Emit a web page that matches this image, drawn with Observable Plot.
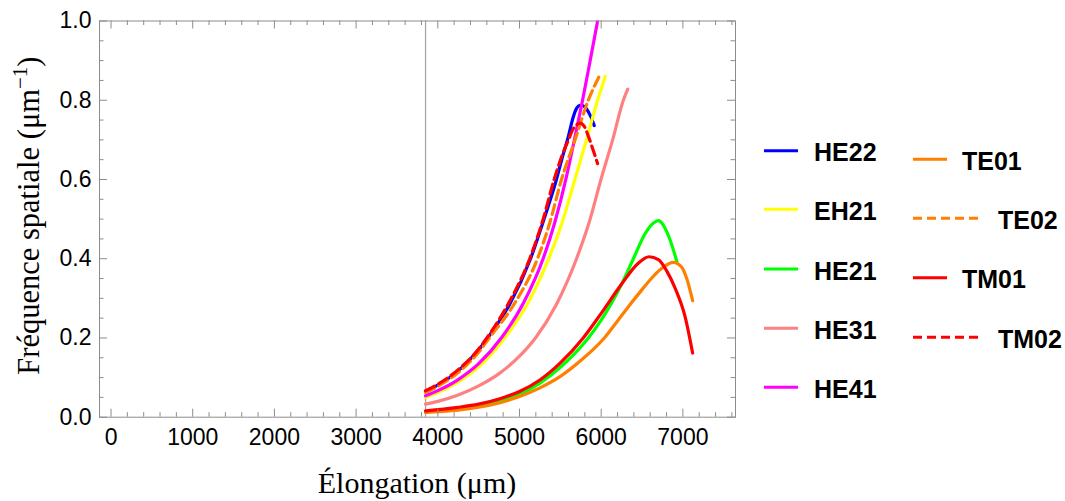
<!DOCTYPE html>
<html><head><meta charset="utf-8">
<script src="https://cdn.jsdelivr.net/npm/d3@7"></script>
<script src="https://cdn.jsdelivr.net/npm/@observablehq/plot@0.6"></script>
<style>body{margin:0;background:#fff}</style>
</head><body><div id="chart"></div>
<script>
// ---- data ----
const seriesNames  = ["HE22","EH21","HE21","HE31","HE41","TE01","TE02","TM01","TM02"];
const seriesColors = ["#0000ff","#ffff00","#00ff00","#ff8080","#ff00ff","#ff8000","#ff8000","#ff0000","#ff0000"];
const seriesDashed = [false,false,false,false,false,false,true,false,true];

const he22X = [3850,4000,4250,4500,4610,4880,5135,5300,5452,5514,5600,5657,5700,5739,5780,5821,5870,5915];
const he22Y = [0.065,0.081,0.117,0.170,0.200,0.285,0.400,0.500,0.600,0.648,0.710,0.757,0.780,0.787,0.786,0.778,0.760,0.736];

const eh21X = [3850,4000,4250,4500,4818,5090,5358,5520,5678,5820,5956,6050];
const eh21Y = [0.050,0.062,0.089,0.127,0.200,0.283,0.400,0.490,0.600,0.700,0.800,0.860];

const he21X = [3850,4000,4250,4500,4750,5000,5250,5500,5842,6000,6250,6394,6537,6640,6701,6760,6824,6926];
const he21Y = [0.013,0.016,0.021,0.029,0.041,0.058,0.086,0.126,0.200,0.245,0.336,0.400,0.463,0.490,0.496,0.485,0.458,0.393];

const he31X = [3850,4000,4250,4500,4750,5000,5195,5450,5698,5850,5997,6140,6271,6325];
const he31Y = [0.033,0.040,0.056,0.079,0.110,0.154,0.200,0.284,0.400,0.490,0.600,0.700,0.800,0.828];

const he41X = [3850,4000,4250,4500,4777,5050,5289,5430,5567,5672,5772,5865,5956];
const he41Y = [0.054,0.067,0.095,0.135,0.200,0.289,0.400,0.490,0.600,0.700,0.800,0.900,1.000];

const te01X = [3850,4000,4250,4500,4750,5000,5250,5500,5750,6038,6200,6333,6500,6600,6742,6885,6988,7050,7119];
const te01Y = [0.012,0.014,0.018,0.025,0.036,0.052,0.074,0.103,0.143,0.200,0.243,0.279,0.322,0.347,0.376,0.391,0.378,0.348,0.294];

const te02X = [3850,4000,4250,4500,4630,4930,5220,5370,5514,5680,5842,5975];
const te02Y = [0.062,0.078,0.113,0.164,0.200,0.284,0.400,0.490,0.600,0.700,0.800,0.860];

const tm01X = [3850,4000,4250,4500,4750,5000,5250,5500,5780,6000,6250,6450,6586,6700,6800,6906,7029,7119];
const tm01Y = [0.016,0.019,0.025,0.033,0.046,0.065,0.094,0.137,0.200,0.262,0.336,0.388,0.405,0.398,0.370,0.325,0.252,0.162];

const tm02X = [3850,4000,4250,4500,4600,4860,5125,5290,5424,5520,5600,5657,5700,5739,5790,5850,5900,5956];
const tm02Y = [0.067,0.083,0.120,0.172,0.200,0.285,0.400,0.500,0.600,0.660,0.700,0.728,0.738,0.742,0.735,0.705,0.675,0.640];

const cutoffX = [3850];
const xTicks = [0,1000,2000,3000,4000,5000,6000,7000];
const yTicks = [0,0.2,0.4,0.6,0.8,1.0];
const xLabel = "Élongation (μm)";
const yLabel = "Fréquence spatiale (μm";

// ---- build ----
const seriesX = [he22X,eh21X,he21X,he31X,he41X,te01X,te02X,tm01X,tm02X];
const seriesY = [he22Y,eh21Y,he21Y,he31Y,he41Y,te01Y,te02Y,tm01Y,tm02Y];
const tables = seriesNames.map((n,i) => seriesX[i].map((x,j) => ({series:n, x, y: seriesY[i][j]})));

const W = 1065, H = 501;
const mL = 99, mR = 330, mT = 20.5, mB = 84.3;
const pw = W - mL - mR, ph = H - mT - mB;
const xDomain = [-141, 7644];

const minorX = d3.range(200, 7644, 200).filter(v => v % 1000 !== 0);
const minorY = d3.range(0.05, 1, 0.05).filter(v => Math.abs(v*5 - Math.round(v*5)) > 1e-6);
const frameCol = "#8c8c8c";
const MAJ = 8, MIN = 4.5;

const tickMarks = (vals, len) => [
  Plot.tickX(vals, {x: d => d, insetTop: ph - len, stroke: frameCol}),
  Plot.tickX(vals, {x: d => d, insetBottom: ph - len, stroke: frameCol}),
];
const tickMarksY = (vals, len) => [
  Plot.tickY(vals, {y: d => d, insetRight: pw - len, stroke: frameCol}),
  Plot.tickY(vals, {y: d => d, insetLeft: pw - len, stroke: frameCol}),
];

const lineMarks = tables.map((t,i) => Plot.line(t, {
  x: "x", y: "y", stroke: seriesColors[i], strokeWidth: 3.2,
  strokeDasharray: seriesDashed[i] ? "10,5" : null,
  curve: "monotone-x", clip: true
}));

const svg = Plot.plot({
  width: W, height: H,
  marginLeft: mL, marginRight: mR, marginTop: mT, marginBottom: mB,
  x: {domain: xDomain},
  y: {domain: [0, 1]},
  style: {fontFamily: "Liberation Sans, Arial, sans-serif", fontSize: "23px", color: "black", background: "white"},
  marks: [
    Plot.ruleX(cutoffX, {stroke: "#a6a6a6", strokeWidth: 1.3}),
    ...lineMarks,
    Plot.frame({stroke: frameCol}),
    ...tickMarks(xTicks, MAJ), ...tickMarks(minorX, MIN),
    ...tickMarksY(yTicks, MAJ), ...tickMarksY(minorY, MIN),
    Plot.axisX(xTicks, {tickSize: 0, tickPadding: 11, fontSize: 23, tickFormat: d3.format("d"), label: null}),
    Plot.axisY(yTicks, {tickSize: 0, tickPadding: 8, fontSize: 23, tickFormat: d3.format(".1f"), label: null})
  ]
});
document.getElementById("chart").appendChild(svg);

const s = d3.select(svg);
// axis titles
s.append("text")
  .attr("x", mL + pw/2).attr("y", 493)
  .attr("text-anchor", "middle")
  .attr("font-family", "Liberation Serif, Times New Roman, serif")
  .attr("font-size", 30).attr("fill", "black")
  .text(xLabel);
const yl = s.append("text")
  .attr("transform", `translate(39,${mT + ph/2 - 3}) rotate(-90)`)
  .attr("text-anchor", "middle")
  .attr("font-family", "Liberation Serif, Times New Roman, serif")
  .attr("font-size", 30.5).attr("fill", "black");
yl.append("tspan").text(yLabel);
yl.append("tspan").attr("font-size", 21).attr("dy", -12).text("−1");
yl.append("tspan").attr("dy", 12).text(")");

// legend
const legendPos = [
  {col:0, y:150.7},{col:0, y:209.3},{col:0, y:269},{col:0, y:328.3},{col:0, y:387.3},
  {col:1, y:159.3},{col:1, y:218.3},{col:1, y:277.7},{col:1, y:337.3}
];
const lg = s.append("g").attr("font-family", "Liberation Sans, Arial, sans-serif")
  .attr("font-weight", "bold").attr("font-size", 25).attr("text-anchor", "start");
seriesNames.forEach((n,i) => {
  const p = legendPos[i];
  const x0 = p.col === 0 ? 764 : 913;
  const len = seriesDashed[i] ? 69 : 34;
  lg.append("line").attr("x1", x0).attr("x2", x0 + len).attr("y1", p.y).attr("y2", p.y)
    .attr("stroke", seriesColors[i]).attr("stroke-width", 3)
    .attr("stroke-dasharray", seriesDashed[i] ? "9,5" : null);
  lg.append("text").attr("x", p.col === 0 ? 814 : (seriesDashed[i] ? 998 : 962))
    .attr("y", p.y + 10.5).attr("fill", "black").attr("text-anchor", "start").text(n);
});
</script></body></html>
